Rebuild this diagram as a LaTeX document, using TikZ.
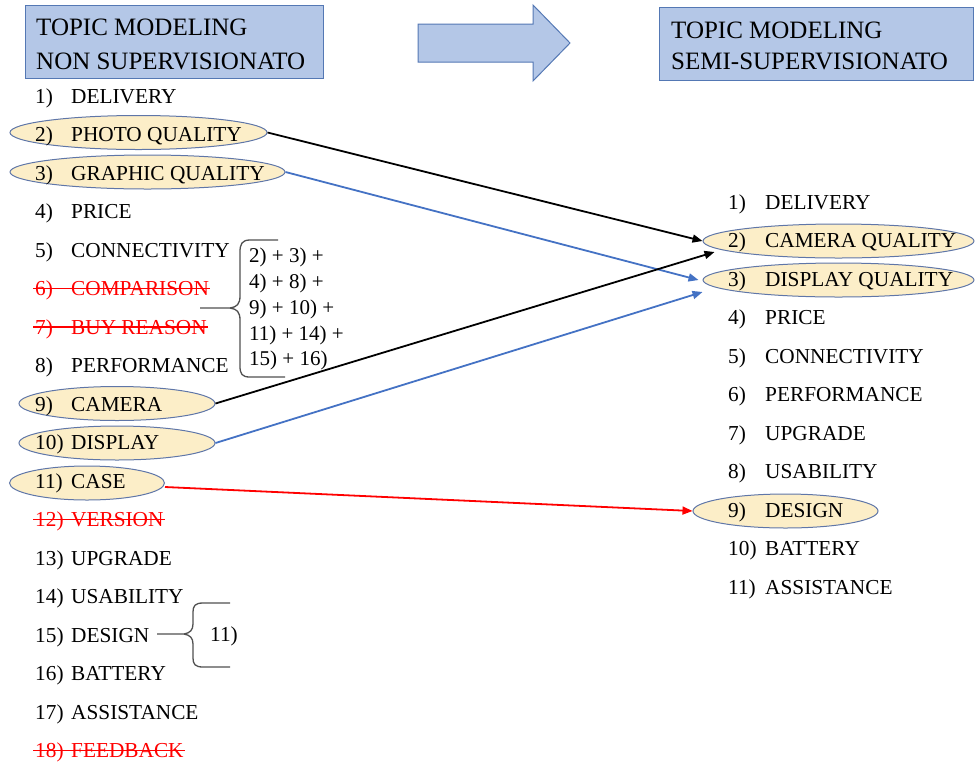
\documentclass[tikz,border=0pt]{standalone}
\usepackage{fontspec}
\setmainfont{Liberation Serif}
\usetikzlibrary{shapes.geometric,arrows.meta}
\definecolor{boxfill}{RGB}{180,199,231}
\definecolor{boxdraw}{RGB}{84,120,180}
\definecolor{ellfill}{RGB}{252,238,200}
\definecolor{elldraw}{RGB}{95,118,168}
\definecolor{arrblue}{RGB}{68,114,196}
\definecolor{bracegray}{RGB}{80,80,80}
\definecolor{strikered}{RGB}{255,0,0}
\newcommand{\lnum}[2]{\makebox[36pt][l]{#1}#2}
\newcommand{\rnum}[2]{\makebox[37pt][l]{#1}#2}
\begin{document}
\begin{tikzpicture}[x=1pt,y=-1pt,
  titlebox/.style={draw=boxdraw,fill=boxfill,line width=1pt,inner sep=0pt,anchor=north west},
  titletxt/.style={anchor=base west,inner sep=0pt,font=\fontsize{25}{29}\selectfont},
  item/.style={anchor=base west,inner sep=0pt,font=\fontsize{21.3}{25}\selectfont},
  gone/.style={item,text=strikered},
  ell/.style={ellipse,draw=elldraw,fill=ellfill,line width=1pt,inner sep=0pt,minimum height=34pt},
  sumtxt/.style={anchor=base west,inner sep=0pt,font=\fontsize{21}{26}\selectfont},
  link/.style={line width=1.8pt,-{Triangle[length=10pt,width=8pt]}},
  bracepath/.style={draw=bracegray,line width=1.3pt}
]
\useasboundingbox (0,0) rectangle (975,764);

% title boxes
\node[titlebox,minimum width=298pt,minimum height=73pt] (tl) at (25,5) {};
\node[titletxt] (tl1) at (36,35) {TOPIC MODELING};
\node[titletxt] (tl2) at (36,69) {NON SUPERVISIONATO};
\node[titlebox,minimum width=314pt,minimum height=73pt] (tr) at (659,7) {};
\node[titletxt] (tr1) at (671,38) {TOPIC MODELING};
\node[titletxt] (tr2) at (671,69) {SEMI-SUPERVISIONATO};

% big arrow
\draw[draw=boxdraw,fill=boxfill,line width=1pt,line join=miter]
  (418,24) -- (533,24) -- (533,5) -- (570,43) -- (533,81) -- (533,62) -- (418,62) -- cycle;

% ellipses (left)
\node[ell,minimum width=257pt] (photo) at (138.5,132.5) {};
\node[ell,minimum width=275pt] (graphic) at (147.5,172) {};
\node[ell,minimum width=196pt] (camera) at (117,403.5) {};
\node[ell,minimum width=196pt] (display) at (117,443) {};
\node[ell,minimum width=155pt] (case) at (87,483) {};
% ellipses (right)
\node[ell,minimum width=271pt] (camq) at (838.5,241) {};
\node[ell,minimum width=271pt] (dispq) at (838.5,280) {};
\node[ell,minimum width=185pt] (design) at (785.5,511) {};

% left list
\node[item] (l1) at (35,103) {\lnum{1)}{DELIVERY}};
\node[item] (l2) at (35,141.5) {\lnum{2)}{PHOTO QUALITY}};
\node[item] (l3) at (35,180) {\lnum{3)}{GRAPHIC QUALITY}};
\node[item] (l4) at (35,218.5) {\lnum{4)}{PRICE}};
\node[item] (l5) at (35,257) {\lnum{5)}{CONNECTIVITY}};
\node[gone] (l6) at (35,295.5) {\lnum{6)}{COMPARISON}};
\node[gone] (l7) at (35,334) {\lnum{7)}{BUY REASON}};
\node[item] (l8) at (35,372.5) {\lnum{8)}{PERFORMANCE}};
\node[item] (l9) at (35,411) {\lnum{9)}{CAMERA}};
\node[item] (l10) at (35,449.5) {\lnum{10)}{DISPLAY}};
\node[item] (l11) at (35,488) {\lnum{11)}{CASE}};
\node[gone] (l12) at (35,526.5) {\lnum{12)}{VERSION}};
\node[item] (l13) at (35,565) {\lnum{13)}{UPGRADE}};
\node[item] (l14) at (35,603.5) {\lnum{14)}{USABILITY}};
\node[item] (l15) at (35,642) {\lnum{15)}{DESIGN}};
\node[item] (l16) at (35,680.5) {\lnum{16)}{BATTERY}};
\node[item] (l17) at (35,719) {\lnum{17)}{ASSISTANCE}};
\node[gone] (l18) at (35,757.5) {\lnum{18)}{FEEDBACK}};
\foreach \n in {l6,l7,l12,l18}
  \draw[strikered,line width=1.2pt] ([xshift=-2pt,yshift=7pt]\n.base west) -- ([xshift=1pt,yshift=7pt]\n.base east);

% right list
\node[item] (r1) at (728,209) {\rnum{1)}{DELIVERY}};
\node[item] (r2) at (728,247.5) {\rnum{2)}{CAMERA QUALITY}};
\node[item] (r3) at (728,286) {\rnum{3)}{DISPLAY QUALITY}};
\node[item] (r4) at (728,324.5) {\rnum{4)}{PRICE}};
\node[item] (r5) at (728,363) {\rnum{5)}{CONNECTIVITY}};
\node[item] (r6) at (728,401.5) {\rnum{6)}{PERFORMANCE}};
\node[item] (r7) at (728,440) {\rnum{7)}{UPGRADE}};
\node[item] (r8) at (728,478.5) {\rnum{8)}{USABILITY}};
\node[item] (r9) at (728,517) {\rnum{9)}{DESIGN}};
\node[item] (r10) at (728,555.5) {\rnum{10)}{BATTERY}};
\node[item] (r11) at (728,594) {\rnum{11)}{ASSISTANCE}};

% brace 1 and sum text
\draw[bracepath] (278,240) -- (250,240) .. controls (242,240) and (240,244) .. (240,252) -- (240,296)
  .. controls (240,304) and (237,307) .. (230,308) -- (200,308);
\draw[bracepath] (230,308) .. controls (237,309) and (240,312) .. (240,320) -- (240,366)
  .. controls (240,374) and (242,377) .. (250,377) -- (285,377);
\node[sumtxt] (s1) at (249,262) {2) + 3) +};
\node[sumtxt] (s2) at (249,288) {4) + 8) +};
\node[sumtxt] (s3) at (249,314) {9) + 10) +};
\node[sumtxt] (s4) at (249,340) {11) + 14) +};
\node[sumtxt] (s5) at (249,365) {15) + 16)};

% brace 2
\draw[bracepath] (230,603) -- (203,603) .. controls (195,603) and (193,606) .. (193,612) -- (193,624)
  .. controls (193,630) and (190,633) .. (184,634) -- (157,634);
\draw[bracepath] (184,634) .. controls (190,635) and (193,638) .. (193,644) -- (193,658)
  .. controls (193,664) and (195,667) .. (203,667) -- (230,667);
\node[item] (b11) at (210,641) {11)};

% connectors
\draw[link,black] (photo.east) -- (camq.west);
\draw[link,arrblue] (graphic.east) -- ([xshift=-4pt]dispq.west);
\draw[link,black] (camera.east) -- ([xshift=12pt,yshift=-11pt]camq.west);
\draw[link,arrblue] (display.east) -- ([yshift=-12pt]dispq.west);
\draw[link,strikered] ([yshift=-4pt]case.east) -- (design.west);
\end{tikzpicture}
\end{document}
